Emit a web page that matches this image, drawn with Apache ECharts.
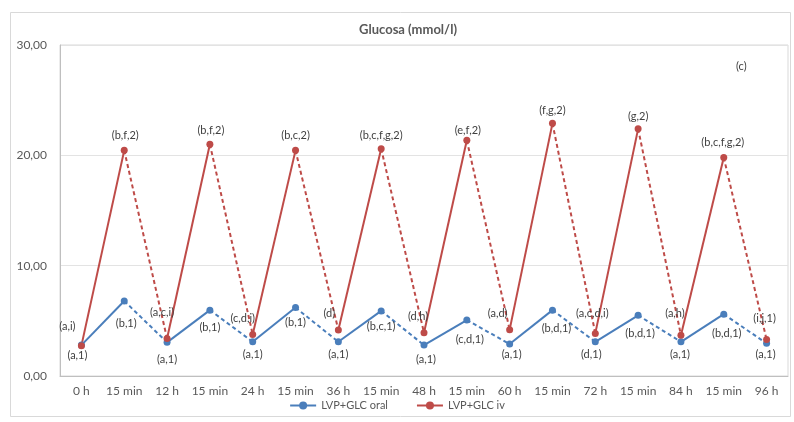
<!DOCTYPE html>
<html><head><meta charset="utf-8">
<script src="https://cdn.jsdelivr.net/npm/echarts@6/dist/echarts.min.js"></script>
<style>html,body{margin:0;padding:0;background:#fff}#c{width:794px;height:422px}</style>
</head><body><div id="c"></div>
<script>
// ---- data ----
const categories = ['0 h','15 min','12 h','15 min','24 h','15 min','36 h','15 min','48 h','15 min','60 h','15 min','72 h','15 min','84 h','15 min','96 h'];
const oralValues = [2.8, 6.8, 3.05, 5.97, 3.1, 6.2, 3.1, 5.9, 2.8, 5.07, 2.9, 5.97, 3.1, 5.5, 3.1, 5.6, 2.96];
const ivValues = [2.75, 20.45, 3.4, 21.0, 3.77, 20.45, 4.16, 20.6, 3.92, 21.36, 4.2, 22.9, 3.86, 22.4, 3.7, 19.8, 3.3];
const oralLabels = ['(a,1)','(b,1)','(a,1)','(b,1)','(a,1)','(b,1)','(a,1)','(b,c,1)','(a,1)','(c,d,1)','(a,1)','(b,d,1)','(d,1)','(b,d,1)','(a,1)','(b,d,1)','(a,1)'];
const ivLabels = ['(a,i)','(b,f,2)','(a,c,i)','(b,f,2)','(c,d,i)','(b,c,2)','(d)','(b,c,f,g,2)','(d,h)','(e,f,2)','(a,d)','(f,g,2)','(a,c,d,i)','(g,2)','(a,h)','(b,c,f,g,2)','(i,j,1)'];
const yTicks = [0, 10, 20, 30];
const seriesNames = ['LVP+GLC oral', 'LVP+GLC iv'];
const panelTag = '(c)';
const chartTitle = 'Glucosa (mmol/l)';

// ---- style ----
const BLUE = '#4A7EBB', RED = '#BE4B48';
const oralOffsets = [[-4,10],[2,22],[0,17],[0,17],[0,13],[0,15],[0,13],[0,16],[2,14],[3,19],[2,10],[4,18],[-4,13],[2,18],[-1,13],[3,19],[-1,11]];
const ivOffsets = [[-14,-19],[1,-15],[-5,-26],[1,-14],[-10,-16],[0,-15],[-9,-17],[0,-13],[-6,-16],[1,-10],[-12,-16],[0,-13],[-3,-20],[0,-12],[-6,-22],[-1,-15],[-2,-21]];
const labelFont = {fontFamily:'Lato', fontSize:11, color:'#404040'};

function pointData(values, labels, offsets){
  return values.map((v,i)=>({value:v, label:{show:true, position:'inside', formatter:labels[i], offset:offsets[i], align:'center', verticalAlign:'middle', ...labelFont}}));
}
function segments(values, name, color){
  const out = [];
  for(let i=0;i<values.length-1;i++){
    out.push({
      type:'line', name:name, silent:true, showSymbol:false, symbol:'none', z:2,
      data: values.map((v,k)=> (k===i||k===i+1) ? v : null),
      lineStyle:{color:color, width:2, type: i%2===0 ? 'solid' : [4,3]},
      itemStyle:{color:color}, emphasis:{disabled:true}
    });
  }
  return out;
}
const series = [
  {type:'line', name:seriesNames[0], data:pointData(oralValues, oralLabels, oralOffsets), symbol:'circle', symbolSize:7, z:4,
   itemStyle:{color:BLUE}, lineStyle:{color:BLUE, opacity:0}},
  {type:'line', name:seriesNames[1], data:pointData(ivValues, ivLabels, ivOffsets), symbol:'circle', symbolSize:7, z:4,
   itemStyle:{color:RED}, lineStyle:{color:RED, opacity:0}},
  ...segments(oralValues, seriesNames[0], BLUE),
  ...segments(ivValues, seriesNames[1], RED)
];

const chart = echarts.init(document.getElementById('c'), null, {renderer:'canvas'});
chart.setOption({
  animation:false,
  backgroundColor:'#fff',
  title:{text:chartTitle, left:403, textAlign:'center', top:18, textStyle:{fontFamily:'Lato', fontSize:13, fontWeight:'bold', color:'#595959'}},
  grid:{left:60, right:6, top:45, bottom:46, show:true, borderColor:'#D9D9D9', borderWidth:1},
  legend:{
    bottom:6, left:'center', itemWidth:26, itemHeight:10, itemGap:28,
    textStyle:{fontFamily:'Lato', fontSize:11, color:'#595959'},
    data:[
      {name:seriesNames[0], itemStyle:{color:BLUE}, lineStyle:{color:BLUE, width:2, opacity:1, type:'solid'}},
      {name:seriesNames[1], itemStyle:{color:RED}, lineStyle:{color:RED, width:2, opacity:1, type:'solid'}}
    ]
  },
  xAxis:{type:'category', data:categories, boundaryGap:true,
    axisLine:{lineStyle:{color:'#BFBFBF'}}, axisTick:{show:false},
    axisLabel:{fontFamily:'Lato', fontSize:12, color:'#595959', margin:9, interval:0}},
  yAxis:{type:'value', min:yTicks[0], max:yTicks[yTicks.length-1], interval:yTicks[1]-yTicks[0],
    axisLine:{show:true, lineStyle:{color:'#BFBFBF'}}, axisTick:{show:false},
    splitLine:{lineStyle:{color:'#E3E3E3'}},
    axisLabel:{fontFamily:'Lato', fontSize:12, color:'#595959', margin:13, formatter:v=>v.toFixed(2).replace('.',',')}},
  graphic:[
    {type:'rect', left:8, top:10, shape:{width:780, height:404}, style:{fill:null, stroke:'#D9D9D9', lineWidth:1}, silent:true},
    {type:'text', left:736, top:61, style:{text:panelTag, font:'11px Lato', fill:'#404040'}}
  ],
  series:series
});
</script></body></html>
